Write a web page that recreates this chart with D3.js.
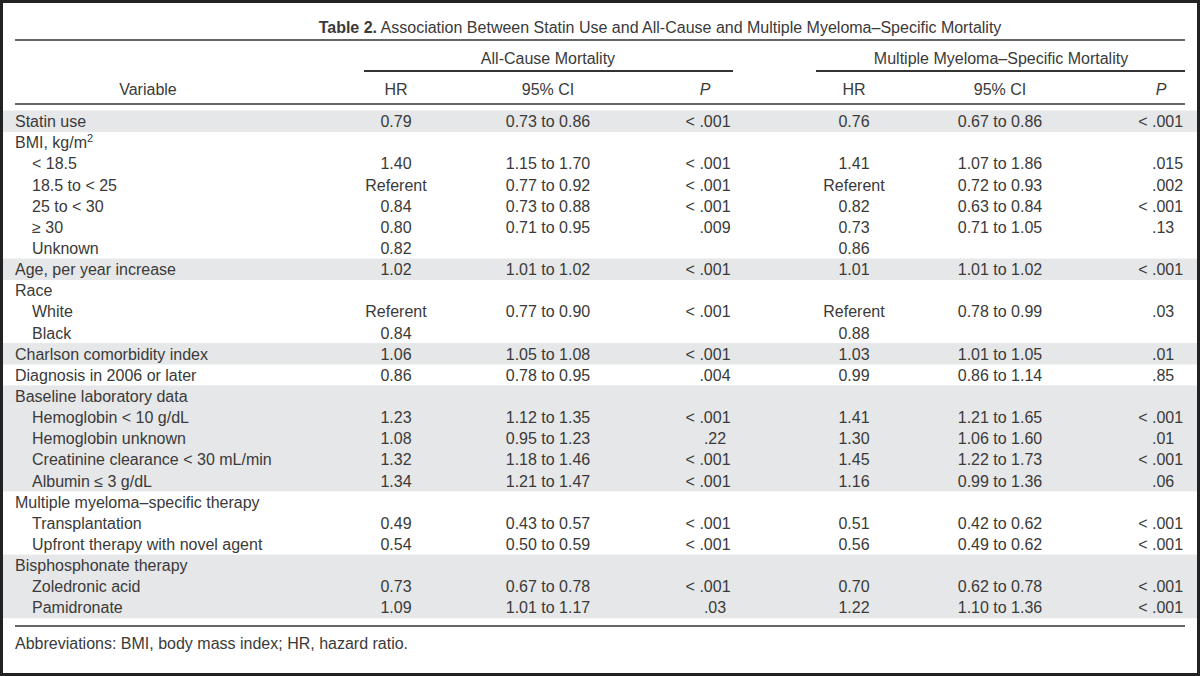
<!DOCTYPE html>
<html>
<head>
<meta charset="utf-8">
<script src="https://cdn.jsdelivr.net/npm/d3@7"></script>
<style>
  html, body { margin: 0; padding: 0; background: #fff; }
  svg text { font-family: "Liberation Sans", Arial, sans-serif; font-size: 16px; fill: #3a3a3a; }
</style>
</head>
<body>
<svg id="chart" width="1200" height="676"></svg>
<script>
// Table 2 - statin use vs mortality

const variables = [
    "Statin use", "BMI, kg/m", "< 18.5", "18.5 to < 25", "25 to < 30", "\u2265 30", "Unknown",
    "Age, per year increase", "Race", "White", "Black",
    "Charlson comorbidity index", "Diagnosis in 2006 or later",
    "Baseline laboratory data", "Hemoglobin < 10 g/dL", "Hemoglobin unknown",
    "Creatinine clearance < 30 mL/min", "Albumin \u2264 3 g/dL",
    "Multiple myeloma\u2013specific therapy", "Transplantation", "Upfront therapy with novel agent",
    "Bisphosphonate therapy", "Zoledronic acid", "Pamidronate"
];
const indentLevel = [0, 0, 1, 1, 1, 1, 1, 0, 0, 1, 1, 0, 0, 0, 1, 1, 1, 1, 0, 1, 1, 0, 1, 1];
const shadedRows = [0, 7, 11, 13, 14, 15, 16, 17, 21, 22, 23];

const allCauseHR = ["0.79", "", "1.40", "Referent", "0.84", "0.80", "0.82", "1.02", "", "Referent", "0.84",
    "1.06", "0.86", "", "1.23", "1.08", "1.32", "1.34", "", "0.49", "0.54", "", "0.73", "1.09"];
const allCauseCI = ["0.73 to 0.86", "", "1.15 to 1.70", "0.77 to 0.92", "0.73 to 0.88", "0.71 to 0.95", "",
    "1.01 to 1.02", "", "0.77 to 0.90", "", "1.05 to 1.08", "0.78 to 0.95", "", "1.12 to 1.35",
    "0.95 to 1.23", "1.18 to 1.46", "1.21 to 1.47", "", "0.43 to 0.57", "0.50 to 0.59", "",
    "0.67 to 0.78", "1.01 to 1.17"];
const allCauseP = ["< .001", "", "< .001", "< .001", "< .001", ".009", "", "< .001", "", "< .001", "",
    "< .001", ".004", "", "< .001", ".22", "< .001", "< .001", "", "< .001", "< .001", "",
    "< .001", ".03"];

const myelomaHR = ["0.76", "", "1.41", "Referent", "0.82", "0.73", "0.86", "1.01", "", "Referent", "0.88",
    "1.03", "0.99", "", "1.41", "1.30", "1.45", "1.16", "", "0.51", "0.56", "", "0.70", "1.22"];
const myelomaCI = ["0.67 to 0.86", "", "1.07 to 1.86", "0.72 to 0.93", "0.63 to 0.84", "0.71 to 1.05", "",
    "1.01 to 1.02", "", "0.78 to 0.99", "", "1.01 to 1.05", "0.86 to 1.14", "", "1.21 to 1.65",
    "1.06 to 1.60", "1.22 to 1.73", "0.99 to 1.36", "", "0.42 to 0.62", "0.49 to 0.62", "",
    "0.62 to 0.78", "1.10 to 1.36"];
const myelomaP = ["< .001", "", ".015", ".002", "< .001", ".13", "", "< .001", "", ".03", "",
    ".01", ".85", "", "< .001", ".01", "< .001", ".06", "", "< .001", "< .001", "",
    "< .001", "< .001"];

const groupLabels = ["All-Cause Mortality", "Multiple Myeloma\u2013Specific Mortality"];
const columnLabels = ["HR", "95% CI", "P"];

const svg = d3.select("#chart");
const W = 1200, H = 676;
const left = 15, right = 1185;

// row scale
const y = d3.scaleBand()
    .domain(d3.range(variables.length))
    .range([110.5, 618])
    .paddingInner(0);

// column centers
const colX = {
    variable: 148,
    acHR: 396, acCI: 548, acP: 715,
    mmHR: 854, mmCI: 1000, mmP: 1152
};

// shaded bands
svg.selectAll("rect.band")
    .data(shadedRows)
    .enter().append("rect")
    .attr("class", "band")
    .attr("x", 3).attr("width", W - 6)
    .attr("y", d => y(d))
    .attr("height", y.bandwidth() + 0.3)
    .attr("fill", "#e6e7e8");

// title
const title = svg.append("text")
    .attr("x", 660).attr("y", 33)
    .attr("text-anchor", "middle");
title.append("tspan").attr("font-weight", "bold").text("Table 2.");
title.append("tspan").text(" Association Between Statin Use and All-Cause and Multiple Myeloma\u2013Specific Mortality");

// rules
const hline = (y0, x1, x2, w) => svg.append("line")
    .attr("x1", x1).attr("x2", x2).attr("y1", y0).attr("y2", y0)
    .attr("stroke", "#333").attr("stroke-width", w);
hline(40, left, right, 1.6);
hline(71, 364, 733, 2);
hline(71, 816, right, 2);
hline(104, left, right, 1.6);
hline(626, left, right, 1.6);

// group headers
svg.append("text").attr("x", 548).attr("y", 64).attr("text-anchor", "middle").text(groupLabels[0]);
svg.append("text").attr("x", 1001).attr("y", 64).attr("text-anchor", "middle").text(groupLabels[1]);

// column headers
const headY = 95;
svg.append("text").attr("x", colX.variable).attr("y", headY).attr("text-anchor", "middle").text("Variable");
[["acHR", 0], ["acCI", 1], ["mmHR", 0], ["mmCI", 1]].forEach(([k, i]) => {
    svg.append("text").attr("x", colX[k]).attr("y", headY).attr("text-anchor", "middle").text(columnLabels[i]);
});
svg.append("text").attr("x", 705).attr("y", headY).attr("text-anchor", "middle")
    .attr("font-style", "italic").text(columnLabels[2]);
svg.append("text").attr("x", 1161).attr("y", headY).attr("text-anchor", "middle")
    .attr("font-style", "italic").text(columnLabels[2]);

const baseY = i => y(i) + 16.6;

// variable names
const names = svg.selectAll("text.var")
    .data(variables)
    .enter().append("text")
    .attr("class", "var")
    .attr("x", (d, i) => left + indentLevel[i] * 17)
    .attr("y", (d, i) => baseY(i))
    .text(d => d);
// superscript for kg/m2
names.filter((d, i) => i === 1)
    .append("tspan").attr("dy", -6).attr("font-size", "11px").text("2");

// simple centered columns
const centerCol = (arr, x) => {
    svg.selectAll(null)
        .data(arr)
        .enter().append("text")
        .attr("x", x)
        .attr("y", (d, i) => baseY(i))
        .attr("text-anchor", "middle")
        .text(d => d);
};
centerCol(allCauseHR, colX.acHR);
centerCol(allCauseCI, colX.acCI);
centerCol(myelomaHR, colX.mmHR);
centerCol(myelomaCI, colX.mmCI);

// P columns: "<" hangs to the left of the number
const pCol = (arr, x, anchor) => {
    arr.forEach((d, i) => {
        if (!d) return;
        const less = d.startsWith("<");
        const num = less ? d.replace("<", "").trim() : d;
        const t = svg.append("text")
            .attr("x", x).attr("y", baseY(i))
            .attr("text-anchor", anchor)
            .text(num);
        if (less) {
            const bb = t.node().getBBox();
            svg.append("text")
                .attr("x", bb.x - 4.5).attr("y", baseY(i))
                .attr("text-anchor", "end")
                .text("<");
        }
    });
};
pCol(allCauseP, colX.acP, "middle");
pCol(myelomaP, colX.mmP, "start");

// footnote
svg.append("text").attr("x", left).attr("y", 649)
    .text("Abbreviations: BMI, body mass index; HR, hazard ratio.");

// outer frame
svg.append("rect")
    .attr("x", 1.5).attr("y", 1.5)
    .attr("width", W - 3).attr("height", H - 3)
    .attr("fill", "none")
    .attr("stroke", "#222").attr("stroke-width", 3);
</script>
</body>
</html>
